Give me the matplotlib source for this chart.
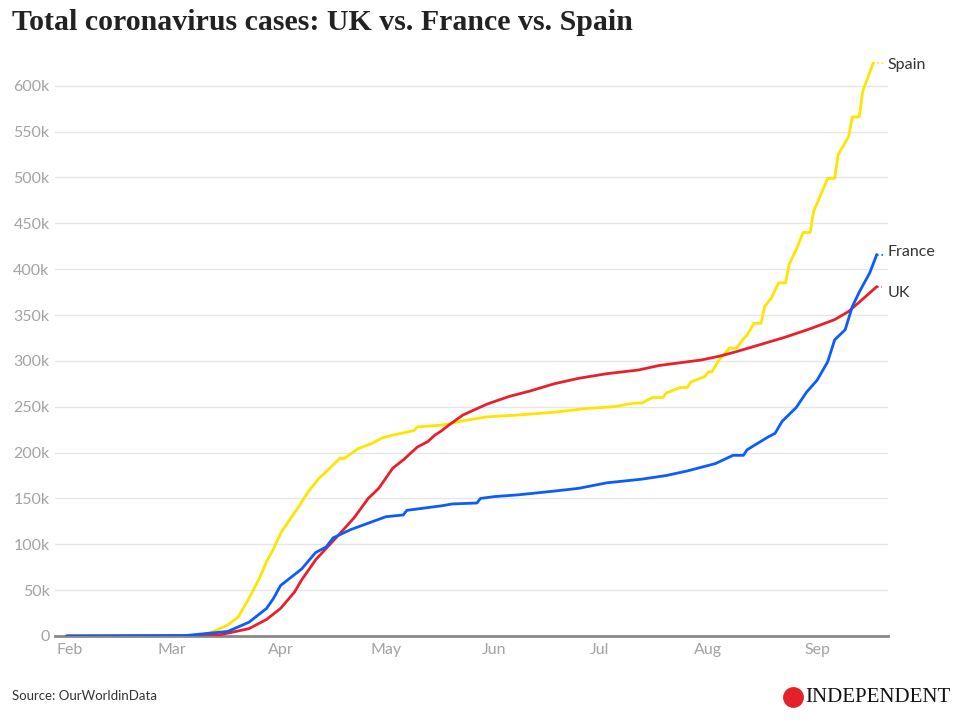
import pandas as pd
import matplotlib.pyplot as plt
from matplotlib.lines import Line2D

# 字体设置
plt.rcParams['font.family'] = ['Lato', 'DejaVu Sans']

# ---- 数据（千例，读自原图）----
spain_dates = ['2020-01-31', '2020-03-03', '2020-03-08', '2020-03-11', '2020-03-13', '2020-03-17',
               '2020-03-20', '2020-03-23', '2020-03-26', '2020-03-28', '2020-03-30', '2020-04-01',
               '2020-04-04', '2020-04-06', '2020-04-09', '2020-04-12', '2020-04-14', '2020-04-18',
               '2020-04-19', '2020-04-23', '2020-04-27', '2020-04-30', '2020-05-03', '2020-05-09',
               '2020-05-10', '2020-05-17', '2020-05-25', '2020-05-30', '2020-06-08', '2020-06-18',
               '2020-06-27', '2020-07-05', '2020-07-11', '2020-07-13', '2020-07-16', '2020-07-19',
               '2020-07-20', '2020-07-24', '2020-07-26', '2020-07-27', '2020-07-31', '2020-08-01',
               '2020-08-02', '2020-08-04', '2020-08-07', '2020-08-09', '2020-08-11', '2020-08-12',
               '2020-08-14', '2020-08-16', '2020-08-17', '2020-08-19', '2020-08-21', '2020-08-23',
               '2020-08-24', '2020-08-26', '2020-08-28', '2020-08-30', '2020-08-31', '2020-09-04',
               '2020-09-06', '2020-09-07', '2020-09-10', '2020-09-11', '2020-09-13', '2020-09-14',
               '2020-09-17']
spain_cases = [0, 0.2, 0.7, 2.3, 5.2, 12,
               21, 41, 63, 81, 95, 112,
               129, 140, 158, 172, 179, 194,
               193, 204, 210, 216, 219, 224,
               228, 230, 236, 239, 241, 244,
               248, 250, 254, 254, 260, 260,
               265, 271, 271, 277, 283, 288,
               288, 301, 314, 314, 324, 328,
               341, 341, 359, 369, 385, 385,
               405, 421, 440, 440, 463, 499,
               499, 525, 545, 566, 566, 594,
               625]

france_dates = ['2020-01-31', '2020-03-05', '2020-03-17', '2020-03-23', '2020-03-28', '2020-03-30',
                '2020-04-01', '2020-04-03', '2020-04-05', '2020-04-07', '2020-04-11', '2020-04-14',
                '2020-04-16', '2020-04-21', '2020-04-26', '2020-05-01', '2020-05-06', '2020-05-07',
                '2020-05-11', '2020-05-17', '2020-05-20', '2020-05-27', '2020-05-28', '2020-06-01',
                '2020-06-08', '2020-06-18', '2020-06-25', '2020-07-03', '2020-07-13', '2020-07-20',
                '2020-07-26', '2020-07-30', '2020-08-03', '2020-08-08', '2020-08-11', '2020-08-12',
                '2020-08-15', '2020-08-18', '2020-08-20', '2020-08-22', '2020-08-26', '2020-08-29',
                '2020-09-01', '2020-09-04', '2020-09-06', '2020-09-09', '2020-09-11', '2020-09-13',
                '2020-09-16', '2020-09-18']
france_cases = [0, 0.5, 5, 15, 30, 41,
                55, 61, 67, 73, 91, 97,
                107, 116, 123, 130, 132, 137,
                139, 142, 144, 145, 150, 152,
                154, 158, 161, 167, 171, 175,
                180, 184, 188, 197, 197, 203,
                210, 217, 221, 234, 249, 266,
                279, 299, 323, 334, 359, 375,
                396, 416]

uk_dates = ['2020-01-31', '2020-03-05', '2020-03-15', '2020-03-23', '2020-03-28', '2020-03-30',
            '2020-04-01', '2020-04-05', '2020-04-07', '2020-04-11', '2020-04-18', '2020-04-22',
            '2020-04-26', '2020-04-29', '2020-05-03', '2020-05-06', '2020-05-10', '2020-05-13',
            '2020-05-15', '2020-05-17', '2020-05-19', '2020-05-23', '2020-05-30', '2020-06-05',
            '2020-06-11', '2020-06-18', '2020-06-25', '2020-07-03', '2020-07-12', '2020-07-18',
            '2020-07-26', '2020-07-30', '2020-08-04', '2020-08-08', '2020-08-16', '2020-08-23',
            '2020-08-30', '2020-09-06', '2020-09-10', '2020-09-13', '2020-09-18']
uk_cases = [0, 0.1, 1.5, 8, 18, 24,
            30, 48, 61, 83, 112, 129,
            150, 161, 183, 192, 206, 212,
            219, 224, 230, 241, 253, 261,
            267, 275, 281, 286, 290, 295,
            299, 301, 305, 309, 318, 326,
            335, 345, 354, 364, 381]

# 名称, 日期, 数值, 颜色, 末端虚线天数, 标签垂直偏移(点)
series = [
    ('Spain', spain_dates, spain_cases, '#ffe400', 3.4, -1.5),
    ('UK', uk_dates, uk_cases, '#e8202c', 1.5, -4.5),
    ('France', france_dates, france_cases, '#0a5cff', 1.7, 2),
]

month_labels = ['Feb', 'Mar', 'Apr', 'May', 'Jun', 'Jul', 'Aug', 'Sep']
y_ticks = list(range(0, 601, 50))

# ---- 绘图 ----
fig = plt.figure(figsize=(9.6, 7.26), dpi=100)
ax = fig.add_axes([0.0573, 0.124, 0.8677, 0.821])

label_x = pd.Timestamp('2020-09-21')
for name, dates, cases, color, tail, dy in series:
    d = pd.to_datetime(dates)
    ax.plot(d, cases, color=color, linewidth=2.0, solid_capstyle='round', zorder=3)
    # 末端虚线 + 标签
    end = d[-1]
    ax.plot([end, end + pd.Timedelta(days=tail)], [cases[-1], cases[-1]], ':',
            color=color, linewidth=1.2, zorder=3)
    ax.annotate(name, (label_x, cases[-1]), xytext=(0, dy),
                textcoords='offset points', va='center', ha='left',
                fontsize=11.5, color='#333333', annotation_clip=False)

start = pd.Timestamp('2020-02-01')
ax.set_xlim(start - pd.Timedelta(days=4.3), start + pd.Timedelta(days=233.2))
ax.set_ylim(0, 650)

month_starts = pd.date_range('2020-02-01', '2020-09-01', freq='MS')
ax.set_xticks(month_starts)
ax.set_xticklabels(month_labels)
ax.set_yticks(y_ticks)
ax.set_yticklabels(['0' if v == 0 else f'{v}k' for v in y_ticks])

ax.tick_params(axis='both', length=0, labelsize=11.5, labelcolor='#a3a3a3')
ax.tick_params(axis='x', pad=5)
ax.tick_params(axis='y', pad=4)

ax.grid(axis='y', color='#e6e6e6', linewidth=1)
ax.set_axisbelow(True)
for s in ['top', 'right', 'left']:
    ax.spines[s].set_visible(False)
ax.spines['bottom'].set_color('#888888')
ax.spines['bottom'].set_linewidth(2)
ax.spines['bottom'].set_zorder(2)

# 标题与来源
fig.text(0.0125, 1 - 22 / 726, 'Total coronavirus cases: UK vs. France vs. Spain',
         family=['Liberation Serif'], fontweight='bold', fontsize=21.5,
         color='#222222', va='center', ha='left')
fig.text(0.0125, 1 - 696 / 726, 'Source: OurWorldinData', fontsize=9.5,
         color='#333333', va='center', ha='left')

# 品牌标志
fig.add_artist(Line2D([793 / 960], [1 - 697 / 726], marker='o', markersize=14,
                      color='#e4212a', transform=fig.transFigure))
fig.text(805 / 960, 1 - 697 / 726, 'INDEPENDENT', family=['Liberation Serif'],
         fontsize=15, color='#111111', va='center', ha='left')

plt.savefig('out.png', dpi=100)
